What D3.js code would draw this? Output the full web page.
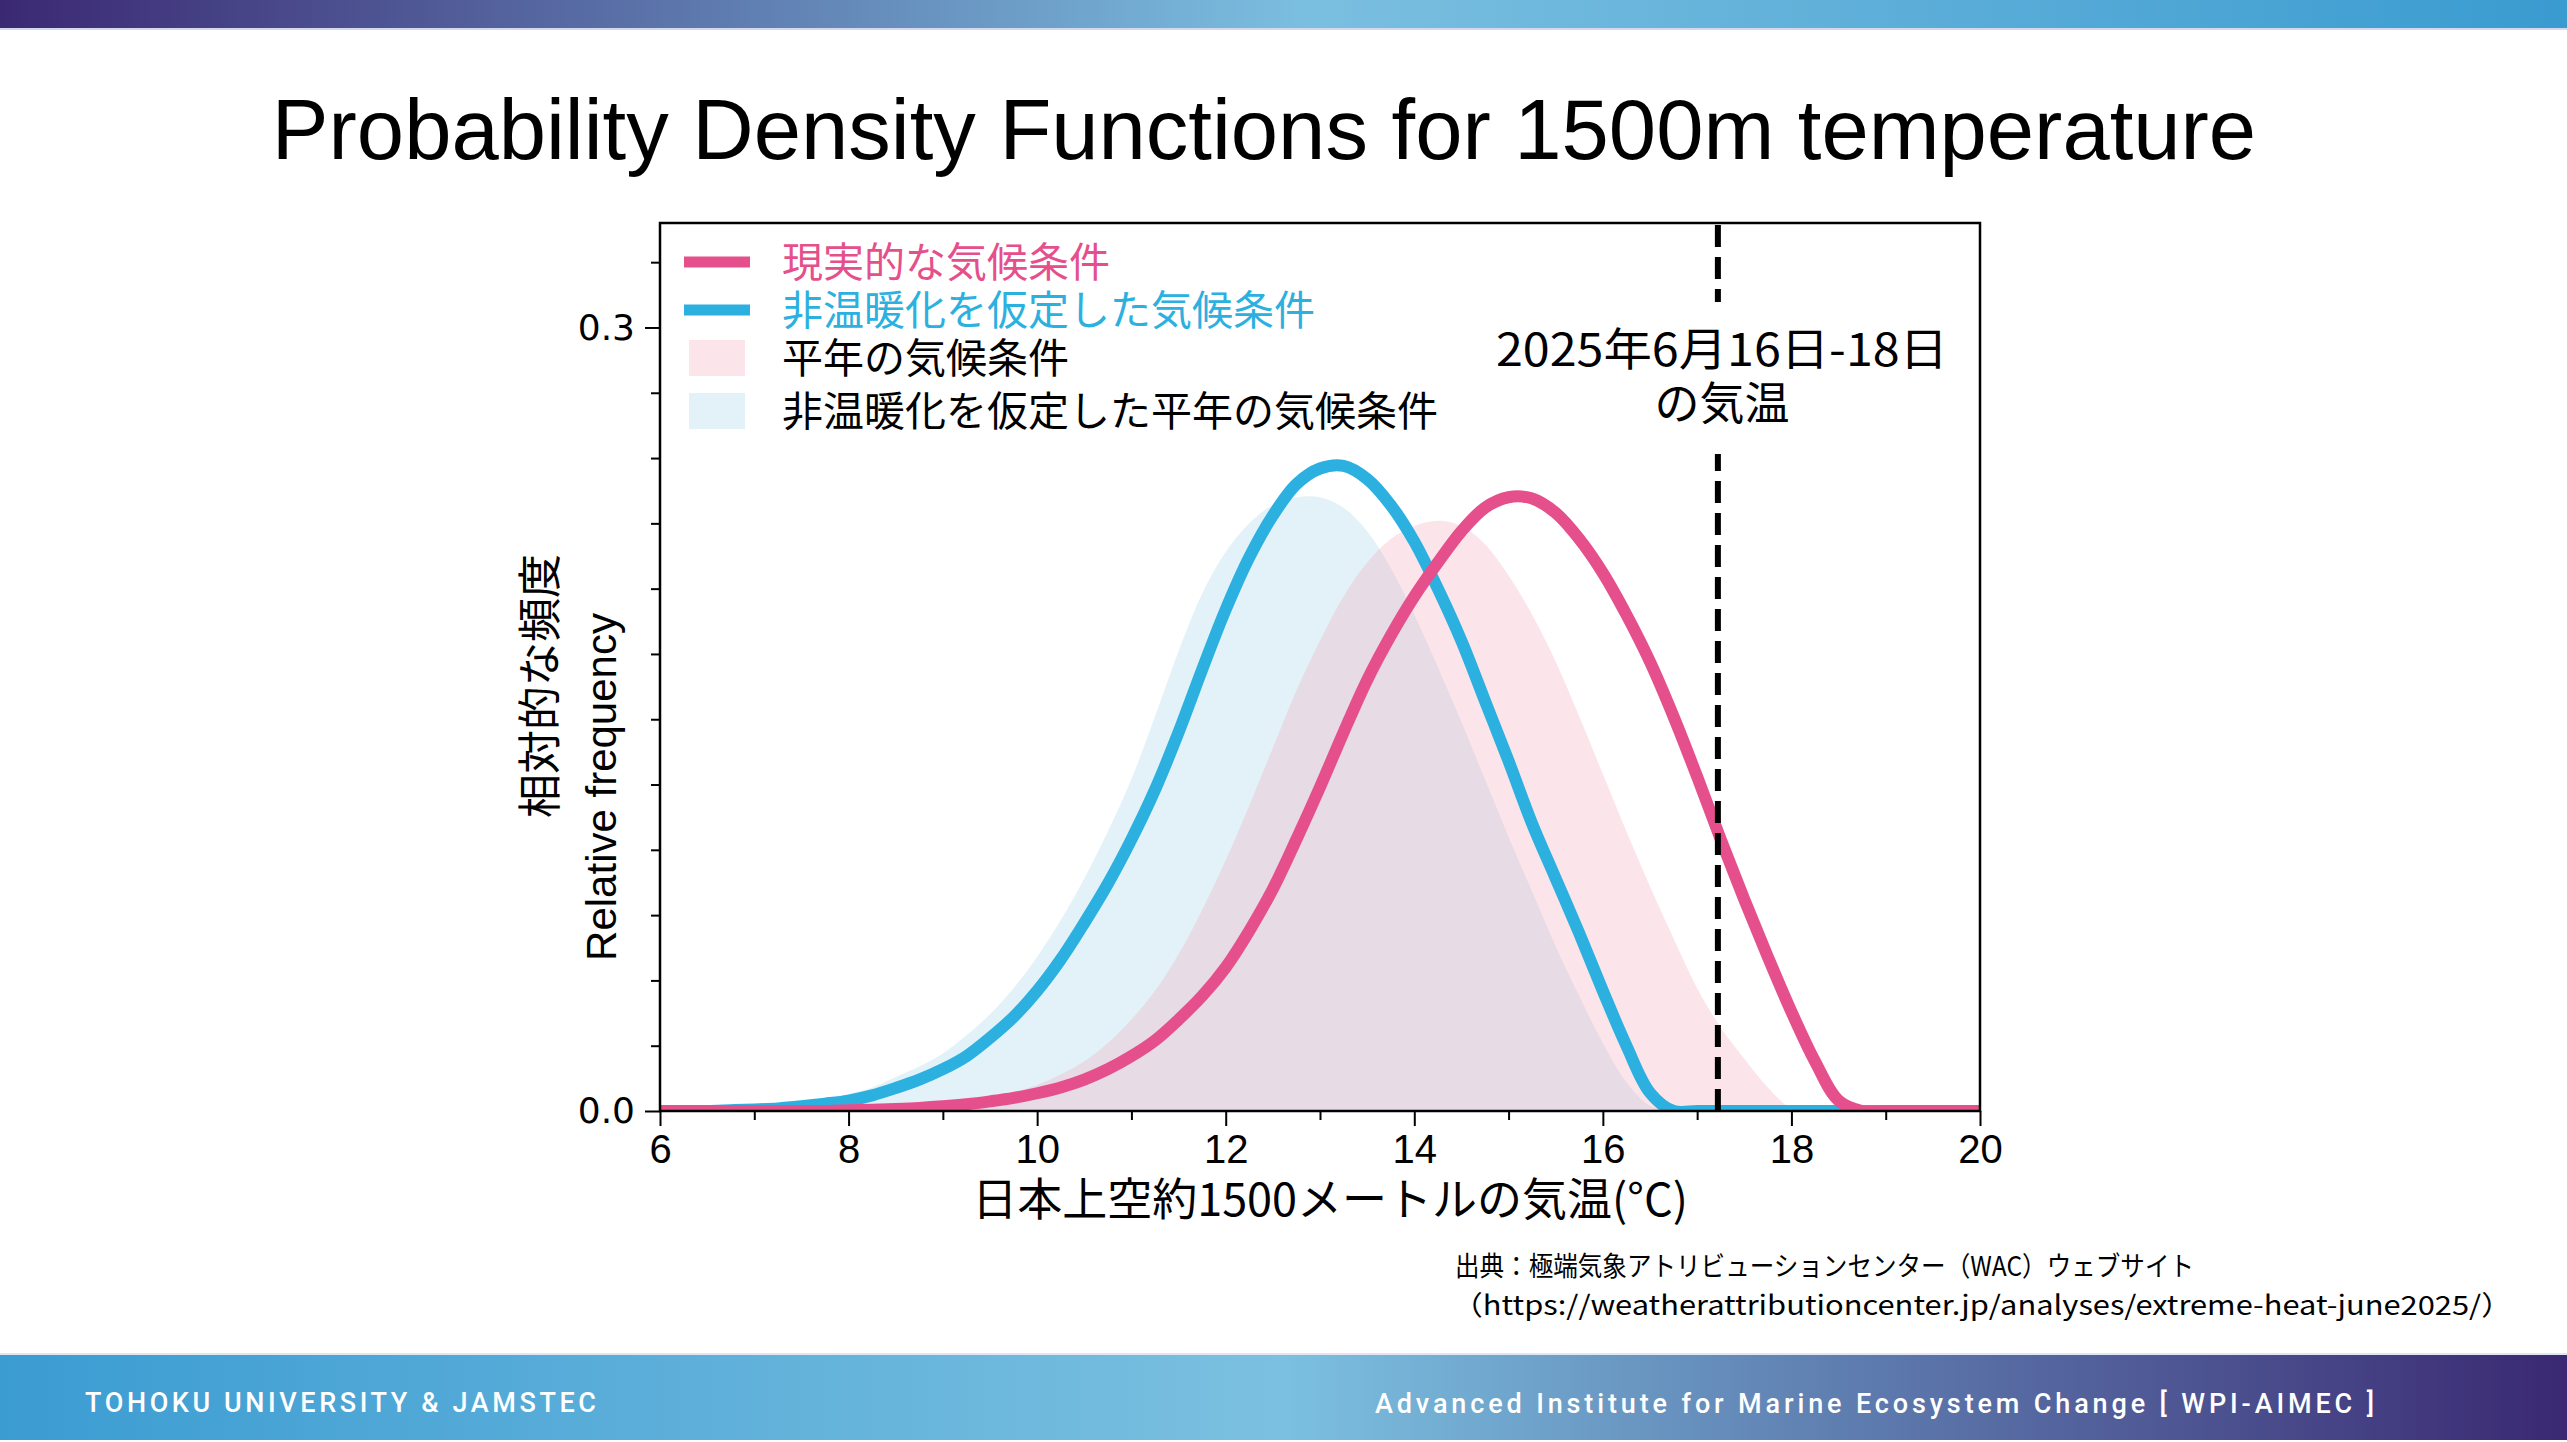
<!DOCTYPE html>
<html>
<head>
<meta charset="utf-8">
<script src="https://cdn.jsdelivr.net/npm/d3@7"></script>
<style>
  body { margin: 0; background: #fff; }
  svg { display: block; }
</style>
</head>
<body>
<div id="slide"></div>
<script>
// temperature grid (deg C), one row per whole degree
var temps = [
  6, 6.25, 6.5, 6.75,  7, 7.25, 7.5, 7.75,  8, 8.25, 8.5, 8.75,  9, 9.25, 9.5, 9.75,
  10, 10.25, 10.5, 10.75,  11, 11.25, 11.5, 11.75,  12, 12.25, 12.5, 12.75,
  13, 13.25, 13.5, 13.75,  14, 14.25, 14.5, 14.75,  15, 15.25, 15.5, 15.75,
  16, 16.25, 16.5, 16.75,  17, 17.25, 17.5, 17.75,  18, 18.25, 18.5, 18.75,
  19, 19.25, 19.5, 19.75,  20
];

// 現実的な気候条件 (pink line)
var actual = [
  0, 0, 0, 0,  0, 0, 0, 0,  0.0003, 0.0005, 0.0008, 0.0012,  0.0018, 0.0026, 0.0037, 0.005,
  0.0068, 0.009, 0.012, 0.016,  0.021, 0.027, 0.035, 0.044,  0.055, 0.069, 0.085, 0.104,
  0.124, 0.145, 0.165, 0.182,  0.197, 0.21, 0.222, 0.231,  0.235, 0.2345, 0.229, 0.219,
  0.206, 0.19, 0.172, 0.151,  0.128, 0.104, 0.081, 0.059,  0.038, 0.019, 0.004, 0,
  0, 0, 0, 0,  0
];

// 非温暖化を仮定した気候条件 (blue line)
var nonWarming = [
  0, 0, 0, 0.0003,  0.0006, 0.001, 0.0018, 0.0028,  0.004, 0.006, 0.0088, 0.012,  0.016, 0.021, 0.028, 0.036,
  0.046, 0.058, 0.072, 0.087,  0.104, 0.123, 0.145, 0.169,  0.192, 0.212, 0.228, 0.24,
  0.246, 0.247, 0.242, 0.232,  0.218, 0.2, 0.18, 0.157,  0.134, 0.11, 0.089, 0.068,
  0.046, 0.025, 0.007, 0,  0, 0, 0, 0,  0, 0, 0, 0,
  0, 0, 0, 0,  0
];

// 平年の気候条件 (light pink area)
var actualClim = [
  0, 0, 0, 0,  0, 0, 0, 0,  0, 0.0004, 0.0008, 0.0014,  0.0022, 0.0034, 0.005, 0.0072,
  0.01, 0.014, 0.019, 0.026,  0.035, 0.046, 0.06, 0.077,  0.096, 0.117, 0.139, 0.161,
  0.18, 0.197, 0.21, 0.219,  0.224, 0.226, 0.224, 0.217,  0.205, 0.19, 0.172, 0.151,
  0.129, 0.107, 0.086, 0.066,  0.047, 0.032, 0.02, 0.009,  0.001, 0, 0, 0,
  0, 0, 0, 0,  0
];

// 非温暖化を仮定した平年の気候条件 (light blue area)
var nonWarmingClim = [
  0, 0.0002, 0.0004, 0.0008,  0.0013, 0.002, 0.003, 0.0045,  0.0065, 0.009, 0.013, 0.017,  0.022, 0.029, 0.037, 0.047,
  0.059, 0.073, 0.089, 0.107,  0.127, 0.151, 0.176, 0.198,  0.214, 0.225, 0.232, 0.235,
  0.235, 0.231, 0.222, 0.208,  0.19, 0.17, 0.149, 0.127,  0.105, 0.084, 0.063, 0.044,
  0.026, 0.011, 0.002, 0,  0, 0, 0, 0,  0, 0, 0, 0,
  0, 0, 0, 0,  0
];

var observedTemp = 17.22;   // 2025年6月16日-18日の気温
var xTicks = [6, 8, 10, 12, 14, 16, 18, 20];
var xMinorTicks = [7, 9, 11, 13, 15, 17, 19];
var yTicks = [0.0, 0.3];
var yMinorTicks = [0.025, 0.05, 0.075, 0.1, 0.125, 0.15, 0.175, 0.2, 0.225, 0.25, 0.275, 0.325];

var legendLabels = ["現実的な気候条件", "非温暖化を仮定した気候条件", "平年の気候条件", "非温暖化を仮定した平年の気候条件"];

var PINK = "#e5508c", BLUE = "#2bb0e0";

var W = 2567, H = 1442;
var plot = {left: 660, right: 1980, top: 223, bottom: 1111};

var svg = d3.select("#slide").append("svg")
  .attr("width", W).attr("height", H)
  .style("font-family", "'Noto Sans CJK JP', sans-serif");

var defs = svg.append("defs");

// header / footer gradients
var gTop = defs.append("linearGradient").attr("id", "gradTop");
gTop.append("stop").attr("offset", "0%").attr("stop-color", "#3b2873");
gTop.append("stop").attr("offset", "51%").attr("stop-color", "#7bbfe0");
gTop.append("stop").attr("offset", "100%").attr("stop-color", "#3a9bd0");

var gBot = defs.append("linearGradient").attr("id", "gradBot");
gBot.append("stop").attr("offset", "0%").attr("stop-color", "#3b9cd2");
gBot.append("stop").attr("offset", "50%").attr("stop-color", "#7bc0e0");
gBot.append("stop").attr("offset", "100%").attr("stop-color", "#3a2872");

defs.append("clipPath").attr("id", "plotClip")
  .append("rect")
    .attr("x", plot.left).attr("y", plot.top)
    .attr("width", plot.right - plot.left).attr("height", plot.bottom - plot.top);

svg.append("rect").attr("x", 0).attr("y", 0).attr("width", W).attr("height", 28)
  .attr("fill", "url(#gradTop)");
svg.append("rect").attr("x", 0).attr("y", 28).attr("width", W).attr("height", 2)
  .attr("fill", "#d4d8ee");

svg.append("rect").attr("x", 0).attr("y", 1353).attr("width", W).attr("height", 2)
  .attr("fill", "#dfe6f2");
svg.append("rect").attr("x", 0).attr("y", 1355).attr("width", W).attr("height", 85)
  .attr("fill", "url(#gradBot)");

svg.append("text")
  .attr("x", 85).attr("y", 1412)
  .attr("textLength", 511).attr("lengthAdjust", "spacing")
  .style("font-family", "Roboto, sans-serif").style("font-weight", 500)
  .style("font-size", "27px").attr("fill", "#fff")
  .text("TOHOKU UNIVERSITY & JAMSTEC");

svg.append("text")
  .attr("x", 1375).attr("y", 1413)
  .attr("textLength", 999).attr("lengthAdjust", "spacing")
  .style("font-family", "Roboto, sans-serif").style("font-weight", 500)
  .style("font-size", "27px").attr("fill", "#fff")
  .text("Advanced Institute for Marine Ecosystem Change [ WPI-AIMEC ]");

// title
svg.append("text")
  .attr("x", 1264).attr("y", 159)
  .attr("text-anchor", "middle")
  .style("font-family", "'Liberation Sans', Arial, sans-serif")
  .style("font-size", "85px")
  .text("Probability Density Functions for 1500m temperature");

// scales
var x = d3.scaleLinear().domain([6, 20]).range([plot.left, plot.right]);
var y = d3.scaleLinear().domain([0, 0.34]).range([plot.bottom, plot.top]);

var rows = temps.map(function(t, i) {
  return {t: t, actual: actual[i], nonWarming: nonWarming[i],
          actualClim: actualClim[i], nonWarmingClim: nonWarmingClim[i]};
});

var chart = svg.append("g").attr("clip-path", "url(#plotClip)");
var curve = d3.curveCatmullRom.alpha(0.5);

function area(key) {
  return d3.area().curve(curve)
    .x(function(d) { return x(d.t); })
    .y0(y(0))
    .y1(function(d) { return y(d[key]); });
}
function line(key) {
  return d3.line().curve(curve)
    .x(function(d) { return x(d.t); })
    .y(function(d) { return y(d[key]); });
}

chart.append("path").datum(rows)
  .attr("d", area("nonWarmingClim"))
  .attr("fill", "#8ccbe3").attr("fill-opacity", 0.25);
chart.append("path").datum(rows)
  .attr("d", area("actualClim"))
  .attr("fill", "#f4a0b5").attr("fill-opacity", 0.28);

chart.append("path").datum(rows)
  .attr("d", line("nonWarming"))
  .attr("fill", "none").attr("stroke", BLUE).attr("stroke-width", 12);
chart.append("path").datum(rows)
  .attr("d", line("actual"))
  .attr("fill", "none").attr("stroke", PINK).attr("stroke-width", 12);

// observed temperature
chart.append("line")
  .attr("x1", x(observedTemp)).attr("x2", x(observedTemp))
  .attr("y1", y(0)).attr("y2", plot.top)
  .attr("stroke", "#000").attr("stroke-width", 6)
  .attr("stroke-dasharray", "22,10");

// annotation with white box
svg.append("rect")
  .attr("x", 1488).attr("y", 302).attr("width", 474).attr("height", 152)
  .attr("fill", "#fff");
var ann = svg.append("text")
  .attr("text-anchor", "middle")
  .style("font-size", "45px");
ann.append("tspan").attr("x", 1722).attr("y", 366)
  .attr("textLength", 452).attr("lengthAdjust", "spacingAndGlyphs")
  .text("2025年6月16日-18日");
ann.append("tspan").attr("x", 1722).attr("y", 420).text("の気温");

// axes
var tickFont = "'Liberation Sans', Arial, sans-serif";

var xAxis = svg.append("g")
  .attr("transform", "translate(0," + plot.bottom + ")")
  .call(d3.axisBottom(x).tickValues(xTicks).tickSize(15).tickPadding(9).tickFormat(d3.format("d")));
xAxis.selectAll("text").style("font-family", tickFont).style("font-size", "40px").attr("fill", "#000");

var xMinor = svg.append("g")
  .attr("transform", "translate(0," + plot.bottom + ")")
  .call(d3.axisBottom(x).tickValues(xMinorTicks).tickSize(9).tickFormat(""));

var yAxis = svg.append("g")
  .attr("transform", "translate(" + plot.left + ",0)")
  .call(d3.axisLeft(y).tickValues(yTicks).tickSize(15).tickPadding(10).tickFormat(d3.format(".1f")));
yAxis.selectAll("text").style("font-family", "'DejaVu Sans', sans-serif").style("font-size", "36px").attr("fill", "#000");

var yMinor = svg.append("g")
  .attr("transform", "translate(" + plot.left + ",0)")
  .call(d3.axisLeft(y).tickValues(yMinorTicks).tickSize(9).tickFormat(""));

svg.selectAll(".domain").remove();
svg.selectAll(".tick line").attr("stroke", "#000").attr("stroke-width", 2);

svg.append("rect")
  .attr("x", plot.left).attr("y", plot.top)
  .attr("width", plot.right - plot.left).attr("height", plot.bottom - plot.top)
  .attr("fill", "none").attr("stroke", "#000").attr("stroke-width", 2.5);

// axis titles
svg.append("text")
  .attr("x", 1330).attr("y", 1216)
  .attr("text-anchor", "middle")
  .style("font-size", "45px")
  .text("日本上空約1500メートルの気温(°C)");

svg.append("text")
  .attr("transform", "translate(556,686) rotate(-90)")
  .attr("text-anchor", "middle")
  .style("font-size", "44px")
  .text("相対的な頻度");

svg.append("text")
  .attr("transform", "translate(616,787) rotate(-90)")
  .attr("text-anchor", "middle")
  .style("font-family", "'Liberation Sans', Arial, sans-serif")
  .style("font-size", "42px")
  .text("Relative frequency");

// legend
var legend = svg.append("g");
var legendY = [262, 310, 358, 411];
var legendText = [PINK, BLUE, "#000", "#000"];

legend.append("line").attr("x1", 684).attr("x2", 750).attr("y1", legendY[0]).attr("y2", legendY[0])
  .attr("stroke", PINK).attr("stroke-width", 11);
legend.append("line").attr("x1", 684).attr("x2", 750).attr("y1", legendY[1]).attr("y2", legendY[1])
  .attr("stroke", BLUE).attr("stroke-width", 11);
legend.append("rect").attr("x", 689).attr("y", legendY[2] - 18).attr("width", 56).attr("height", 36)
  .attr("fill", "#f4a0b5").attr("fill-opacity", 0.28);
legend.append("rect").attr("x", 689).attr("y", legendY[3] - 18).attr("width", 56).attr("height", 36)
  .attr("fill", "#8ccbe3").attr("fill-opacity", 0.25);

legend.selectAll("text.lab").data(legendLabels).enter()
  .append("text").attr("class", "lab")
  .attr("x", 782)
  .attr("y", function(d, i) { return legendY[i] + 15; })
  .attr("fill", function(d, i) { return legendText[i]; })
  .style("font-size", "41px")
  .text(function(d) { return d; });

// source
svg.append("text")
  .attr("x", 1455).attr("y", 1276)
  .attr("textLength", 739).attr("lengthAdjust", "spacingAndGlyphs")
  .style("font-size", "27px")
  .text("出典：極端気象アトリビューションセンター（WAC）ウェブサイト");
svg.append("text")
  .attr("x", 1452).attr("y", 1315)
  .attr("textLength", 1060).attr("lengthAdjust", "spacingAndGlyphs")
  .style("font-size", "27px")
  .text("（https://weatherattributioncenter.jp/analyses/extreme-heat-june2025/）");
</script>
</body>
</html>
